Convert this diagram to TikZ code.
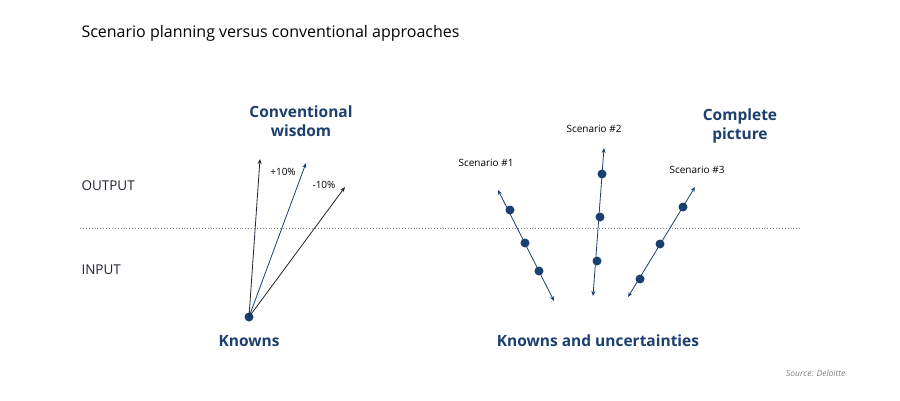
\documentclass[tikz,border=0pt]{standalone}
\usepackage{fontspec}
\setmainfont{Open Sans}
\usetikzlibrary{arrows.meta}
\definecolor{navy}{HTML}{1B3F6E}
\definecolor{dk}{HTML}{222233}
\tikzset{
 dot/.style={circle,fill=navy,inner sep=0pt,minimum size=9pt},
 arr/.style={-{Stealth[length=5pt,width=4pt]},line width=0.8pt},
 barr/.style={{Stealth[length=5pt,width=4pt]}-{Stealth[length=5pt,width=4pt]},line width=0.8pt,navy},
 big/.style={font=\bfseries\fontsize{15.5}{19}\selectfont,text=navy,align=center},
 sm/.style={font=\fontsize{10}{12}\selectfont,text=black},
 axl/.style={anchor=west,font=\fontsize{13.5}{16}\selectfont,text=dk},
}
\begin{document}
\begin{tikzpicture}[x=1pt,y=-1pt]
\useasboundingbox[fill=white] (0,0) rectangle (900,401);
\node[anchor=west,font=\fontsize{16}{19}\selectfont] (title) at (78,33) {Scenario planning versus conventional approaches};
\node[axl] (out) at (78,186) {OUTPUT};
\node[axl] (in) at (78,270) {INPUT};
\coordinate (l1) at (80,228); \coordinate (l2) at (800,228);
\draw[gray,dotted,line width=0.9pt] (l1) -- (l2);
% left
\node[dot] (k) at (249,317) {};
\coordinate (a1) at (260,159); \coordinate (a2) at (306,163); \coordinate (a3) at (345,187);
\draw[arr,dk] (k.center) -- (a1);
\draw[arr,navy] (k.center) -- (a2);
\draw[arr,dk] (k.center) -- (a3);
\node[sm] (p10) at (283,172) {+10\%};
\node[sm] (m10) at (324,185) {-10\%};
\node[big] (cw) at (301,121) {Conventional\\wisdom};
\node[big] (kn) at (249,341) {Knowns};
\node[big] (ku) at (598,341) {Knowns and uncertainties};
\node[big] (cp) at (740,126) {Complete\\picture};
% scenarios
\coordinate (s1a) at (498,190); \coordinate (s1b) at (554,301);
\coordinate (s2a) at (604,148); \coordinate (s2b) at (593,296);
\coordinate (s3a) at (695,187); \coordinate (s3b) at (628,297);
\draw[barr] (s1a) -- (s1b);
\draw[barr] (s2a) -- (s2b);
\draw[barr] (s3a) -- (s3b);
\node[dot] (d11) at (510,210) {};
\node[dot] (d12) at (525,243) {};
\node[dot] (d13) at (539,271) {};
\node[dot] (d21) at (602,174) {};
\node[dot] (d22) at (600,217) {};
\node[dot] (d23) at (597,261) {};
\node[dot] (d31) at (683,207) {};
\node[dot] (d32) at (660,244) {};
\node[dot] (d33) at (640,279) {};
\node[sm] (sc1) at (486,163) {Scenario \#1};
\node[sm] (sc2) at (594,129) {Scenario \#2};
\node[sm] (sc3) at (697,170) {Scenario \#3};
\node[anchor=east,font=\itshape\fontsize{8.5}{10}\selectfont,text=gray] (src) at (849,373) {Source: Deloitte};
\end{tikzpicture}
\end{document}
